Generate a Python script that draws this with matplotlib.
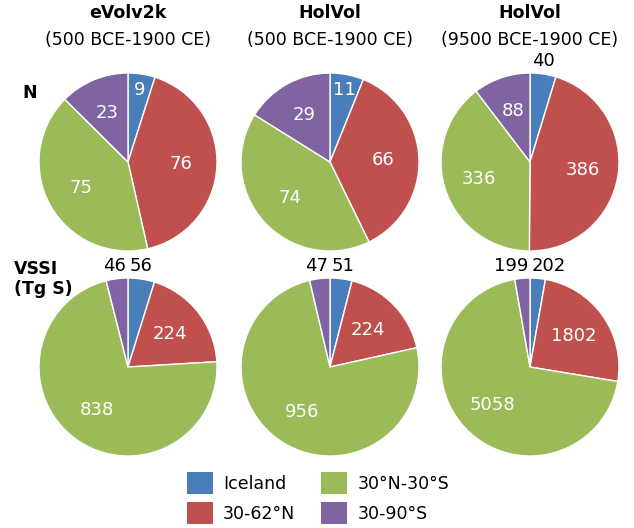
import numpy as np
import matplotlib.pyplot as plt
from matplotlib.patches import Patch

regions = ["Iceland", "30-62°N", "30°N-30°S", "30-90°S"]
colors = ["#4a7ebb", "#c0504d", "#9bbb59", "#8064a2"]
titles = ["eVolv2k", "HolVol", "HolVol"]
periods = ["(500 BCE-1900 CE)", "(500 BCE-1900 CE)", "(9500 BCE-1900 CE)"]
counts = [[9, 76, 75, 23], [11, 66, 74, 29], [40, 386, 336, 88]]
vssi = [[56, 224, 838, 46], [51, 224, 956, 47], [202, 1802, 5058, 199]]
# which slices get their label outside the pie
outside_counts = [[], [], [0]]
outside_vssi = [[0, 3], [0, 3], [0, 3]]

W, H = 634, 528
fig = plt.figure(figsize=(W / 100, H / 100), dpi=100)

centers_x = [128, 330, 530]
R = 89
rows = [(counts, outside_counts, 162), (vssi, outside_vssi, 367)]


def draw_pie(vals, outside, cx, cy):
    ax = fig.add_axes([(cx - R) / W, 1 - (cy + R) / H, 2 * R / W, 2 * R / H])
    ax.pie(vals, colors=colors, startangle=90, counterclock=False,
           wedgeprops=dict(edgecolor="white", linewidth=1))
    ax.set_xlim(-1, 1)
    ax.set_ylim(-1, 1)
    total = sum(vals)
    start = 90.0
    for k, v in enumerate(vals):
        span = 360.0 * v / total
        mid = np.radians(start - span / 2)
        start -= span
        if k in outside:
            right = np.cos(mid) > 0
            ax.text(0.02 if right else -0.02, 1.13, str(v),
                    ha="left" if right else "right", va="center",
                    fontsize=13, color="black", clip_on=False)
        else:
            d = 0.82 if span < 30 else 0.6
            ax.text(d * np.cos(mid), d * np.sin(mid), str(v), ha="center",
                    va="center", fontsize=13, color="white")


for data, outside, cy in rows:
    for i, cx in enumerate(centers_x):
        draw_pie(data[i], outside[i], cx, cy)

for i, cx in enumerate(centers_x):
    fig.text(cx / W, 1 - 13 / H, titles[i], ha="center", va="center",
             fontsize=12.5, fontweight="bold")
    fig.text(cx / W, 1 - 40 / H, periods[i], ha="center", va="center", fontsize=12.5)

fig.text(22 / W, 1 - 93 / H, "N", ha="left", va="center", fontsize=12.5, fontweight="bold")
fig.text(14 / W, 1 - 279 / H, "VSSI\n(Tg S)", ha="left", va="center", fontsize=12.5,
         fontweight="bold", linespacing=1.1)

handles = [Patch(facecolor=c, edgecolor="none") for c in colors]
fig.legend(handles, regions, ncol=2, loc="center", bbox_to_anchor=(318 / W, 1 - 498 / H),
           frameon=False, fontsize=12.5, handlelength=1.5, handleheight=1.5,
           columnspacing=1.5, handletextpad=0.6, labelspacing=0.5)

fig.savefig("out.png", dpi=100, facecolor="white")
